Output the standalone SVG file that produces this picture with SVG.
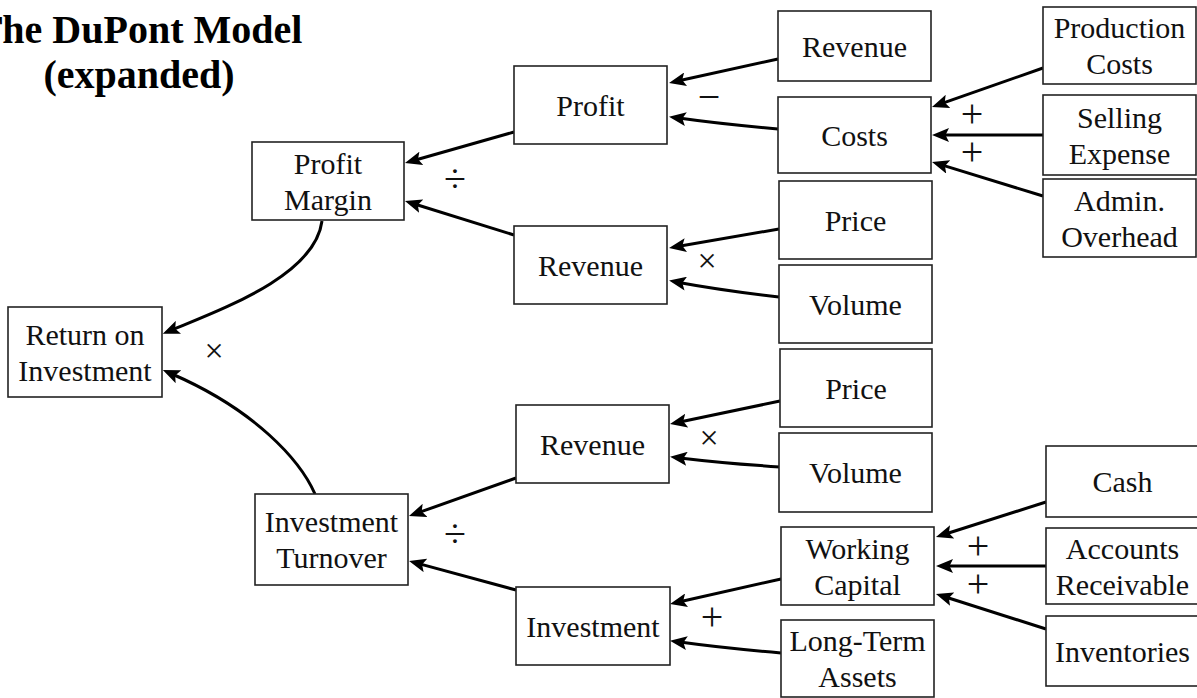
<svg xmlns="http://www.w3.org/2000/svg" width="1197" height="698" viewBox="0 0 1197 698">
  <defs>
    <marker id="arrow" markerUnits="userSpaceOnUse" markerWidth="17" markerHeight="14" refX="7" refY="7" orient="auto">
      <path d="M0,0 L17,7 L0,14 L3.5,7 z" fill="#000"/>
    </marker>
    <style>
      .box { fill: #fff; stroke: #222; stroke-width: 1.6; }
      .lbl { font-family: "Liberation Serif", "Times New Roman", serif; font-size: 30px; fill: #111; text-anchor: middle; }
      .title { font-family: "Liberation Serif", "Times New Roman", serif; font-size: 40px; font-weight: bold; fill: #000; text-anchor: middle; }
      .op { font-family: "Liberation Serif", "Times New Roman", serif; font-size: 40px; fill: #111; text-anchor: middle; }
      .mul { font-family: "Liberation Serif", "Times New Roman", serif; font-size: 34px; fill: #111; text-anchor: middle; }
      .edge { fill: none; stroke: #000; stroke-width: 3; marker-end: url(#arrow); }
    </style>
  </defs>

  <rect width="1197" height="698" fill="#fff"/>

  <!-- heading -->
  <text class="title" x="139" y="43">The DuPont Model</text>
  <text class="title" x="139" y="88">(expanded)</text>

  <!-- connectors: every arrow points from a component to the figure it builds -->
  <g id="connectors">
    <path class="edge" d="M778,59 L678.8,80.8"/>
    <path class="edge" d="M778,129 Q720,124 678.9,118.1"/>
    <path class="edge" d="M1043,68 L941.4,103.7"/>
    <path class="edge" d="M1043,135 L942,135"/>
    <path class="edge" d="M1043,196 L941.6,164.9"/>
    <path class="edge" d="M514,132 L414.6,160.3"/>
    <path class="edge" d="M514,235 L414.5,204"/>
    <path class="edge" d="M779,229 L678.9,246.3"/>
    <path class="edge" d="M779,297 Q720,290 678.9,282.4"/>
    <path class="edge" d="M780,401 L679.8,422"/>
    <path class="edge" d="M780,467 Q722,463 680,457.9"/>
    <path class="edge" d="M516,478 L418.4,512.7"/>
    <path class="edge" d="M516,590 L418.7,563.6"/>
    <path class="edge" d="M781,579 L679.8,601.8"/>
    <path class="edge" d="M781,653 Q722,648 679.9,642.1"/>
    <path class="edge" d="M1046,502 L945.5,534"/>
    <path class="edge" d="M1046,566 L946,566"/>
    <path class="edge" d="M1046,629 L945.5,597"/>
    <path class="edge" d="M322,221 C315,275 225,308 172,330"/>
    <path class="edge" d="M315,494 C300,460 255,410 172,374"/>
  </g>

  <!-- operators -->
  <g id="operators">
    <text class="op" x="709" y="110">−</text>
    <text class="op" x="972" y="127">+</text>
    <text class="op" x="972" y="165">+</text>
    <text class="op" x="455" y="191.5">÷</text>
    <text class="op" x="455" y="547">÷</text>
    <text class="mul" x="707" y="271.5">×</text>
    <text class="mul" x="709" y="448.5">×</text>
    <text class="mul" x="214" y="361.5">×</text>
    <text class="op" x="712" y="630">+</text>
    <text class="op" x="978" y="559">+</text>
    <text class="op" x="978" y="597">+</text>
  </g>

  <g id="roi">
    <rect class="box" x="8" y="307" width="154" height="90"/>
    <text class="lbl" x="85" y="344.5">Return on</text>
    <text class="lbl" x="85" y="380.5">Investment</text>
  </g>
  <g id="profit-margin">
    <rect class="box" x="252" y="142" width="152" height="78"/>
    <text class="lbl" x="328" y="173.5">Profit</text>
    <text class="lbl" x="328" y="209.5">Margin</text>
  </g>
  <g id="investment-turnover">
    <rect class="box" x="255" y="494" width="153" height="91"/>
    <text class="lbl" x="331.5" y="532">Investment</text>
    <text class="lbl" x="331.5" y="568">Turnover</text>
  </g>
  <g id="profit">
    <rect class="box" x="514" y="66" width="153" height="78"/>
    <text class="lbl" x="590.5" y="115.5">Profit</text>
  </g>
  <g id="revenue-margin">
    <rect class="box" x="514" y="226" width="153" height="78"/>
    <text class="lbl" x="590.5" y="275.5">Revenue</text>
  </g>
  <g id="revenue-turnover">
    <rect class="box" x="516" y="405" width="153" height="78"/>
    <text class="lbl" x="592.5" y="454.5">Revenue</text>
  </g>
  <g id="investment">
    <rect class="box" x="516" y="587" width="154" height="78"/>
    <text class="lbl" x="593" y="636.5">Investment</text>
  </g>
  <g id="revenue-profit">
    <rect class="box" x="778" y="11" width="153" height="70"/>
    <text class="lbl" x="854.5" y="56.5">Revenue</text>
  </g>
  <g id="costs">
    <rect class="box" x="778" y="97" width="153" height="76"/>
    <text class="lbl" x="854.5" y="145.5">Costs</text>
  </g>
  <g id="price-margin">
    <rect class="box" x="779" y="181" width="153" height="78"/>
    <text class="lbl" x="855.5" y="230.5">Price</text>
  </g>
  <g id="volume-margin">
    <rect class="box" x="779" y="265" width="153" height="78"/>
    <text class="lbl" x="855.5" y="314.5">Volume</text>
  </g>
  <g id="price-turnover">
    <rect class="box" x="780" y="349" width="152" height="78"/>
    <text class="lbl" x="856" y="398.5">Price</text>
  </g>
  <g id="volume-turnover">
    <rect class="box" x="779" y="433" width="153" height="79"/>
    <text class="lbl" x="855.5" y="483">Volume</text>
  </g>
  <g id="working-capital">
    <rect class="box" x="781" y="527" width="153" height="78"/>
    <text class="lbl" x="857.5" y="558.5">Working</text>
    <text class="lbl" x="857.5" y="594.5">Capital</text>
  </g>
  <g id="long-term-assets">
    <rect class="box" x="781" y="620" width="153" height="77"/>
    <text class="lbl" x="857.5" y="651">Long-Term</text>
    <text class="lbl" x="857.5" y="687">Assets</text>
  </g>
  <g id="production-costs">
    <rect class="box" x="1043" y="7" width="153" height="77"/>
    <text class="lbl" x="1119.5" y="38">Production</text>
    <text class="lbl" x="1119.5" y="74">Costs</text>
  </g>
  <g id="selling-expense">
    <rect class="box" x="1043" y="95" width="153" height="80"/>
    <text class="lbl" x="1119.5" y="127.5">Selling</text>
    <text class="lbl" x="1119.5" y="163.5">Expense</text>
  </g>
  <g id="admin-overhead">
    <rect class="box" x="1043" y="179" width="153" height="78"/>
    <text class="lbl" x="1119.5" y="210.5">Admin.</text>
    <text class="lbl" x="1119.5" y="246.5">Overhead</text>
  </g>
  <g id="cash">
    <rect class="box" x="1046" y="446" width="153" height="71"/>
    <text class="lbl" x="1122.5" y="492">Cash</text>
  </g>
  <g id="accounts-receivable">
    <rect class="box" x="1046" y="528" width="153" height="76"/>
    <text class="lbl" x="1122.5" y="558.5">Accounts</text>
    <text class="lbl" x="1122.5" y="594.5">Receivable</text>
  </g>
  <g id="inventories">
    <rect class="box" x="1046" y="616" width="153" height="70"/>
    <text class="lbl" x="1122.5" y="661.5">Inventories</text>
  </g>
</svg>
